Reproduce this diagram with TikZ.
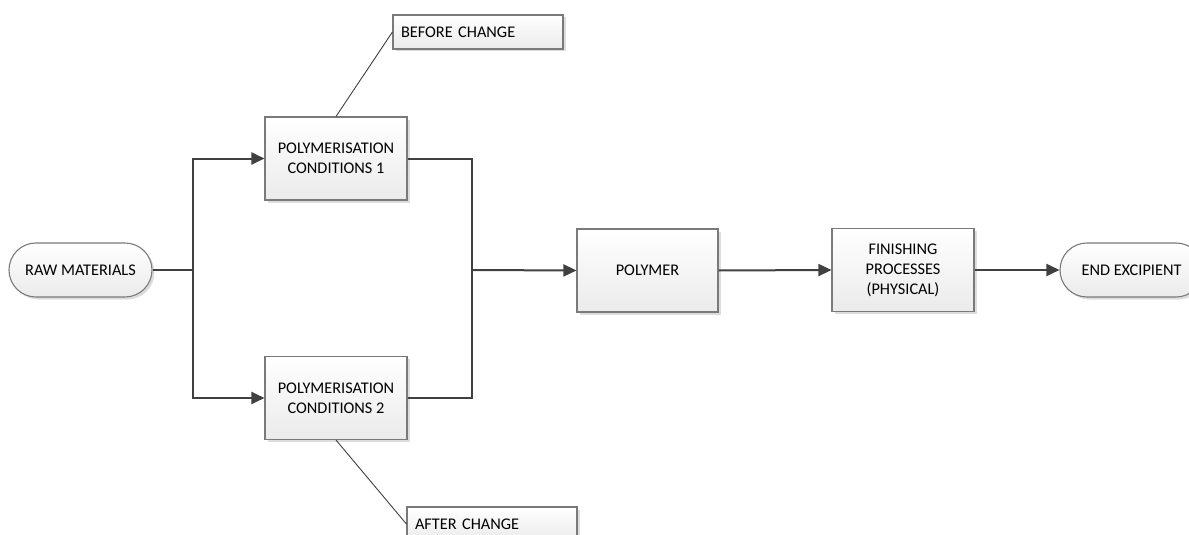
\documentclass[tikz,border=0pt]{standalone}
\usepackage{fontspec}
\setmainfont{Carlito}
\usetikzlibrary{arrows.meta,shadows}
\definecolor{linec}{HTML}{404040}
\definecolor{borderc}{HTML}{7A7A7A}
\tikzset{
  base/.style={draw=borderc, line width=1.1pt, top color=white, bottom color=black!8,
    drop shadow={shadow xshift=2.5pt, shadow yshift=-2.5pt, fill=black!22, opacity=0.6},
    font=\fontsize{16.3}{20}\selectfont, align=center, inner sep=0pt},
  procbox/.style={base, rectangle, minimum width=142pt, minimum height=83pt},
  termbox/.style={base, rectangle, rounded corners=26.9pt, minimum width=143pt, minimum height=54pt},
  notebox/.style={base, rectangle, minimum width=170pt, minimum height=34pt, text width=154pt, align=left},
  conn/.style={draw=linec, line width=2pt},
  arr/.style={conn, -{Triangle[length=13pt,width=12pt]}},
  callout/.style={draw=linec, line width=0.9pt}
}
\begin{document}
\begin{tikzpicture}[x=1pt,y=-1pt]
\useasboundingbox (0,0) rectangle (1189,535);
\clip (0,0) rectangle (1189,535);
\node[termbox] (raw) at (80.5,270) {RAW MATERIALS};
\node[procbox] (p1) at (336,158.5) {POLYMERISATION\\CONDITIONS 1};
\node[procbox] (p2) at (336,398) {POLYMERISATION\\CONDITIONS 2};
\node[procbox, minimum width=141pt] (poly) at (647.5,270.5) {POLYMER};
\node[procbox] (fin) at (903,270) {FINISHING\\PROCESSES\\(PHYSICAL)};
\node[termbox] (end) at (1131.5,270) {END EXCIPIENT};
\node[notebox] (before) at (478,32) {BEFORE CHANGE};
\node[notebox] (after) at (492,524) {AFTER CHANGE};
\coordinate (j1) at (192.5,270);
\coordinate (j2) at (472,270);
\draw[conn] (raw.east) -- (j1);
\draw[arr] (j1) |- (p1.west);
\draw[arr] (j1) |- (p2.west);
\draw[conn] (p1.east) -| (j2);
\draw[conn] (p2.east) -| (j2);
\draw[arr] (j2) -- (poly.west);
\draw[arr] (poly.east) -- (fin.west);
\draw[arr] (fin.east) -- (end.west);
\draw[callout] (p1.north) -- (before.west);
\draw[callout] (p2.south) -- (after.west);
\end{tikzpicture}
\end{document}
